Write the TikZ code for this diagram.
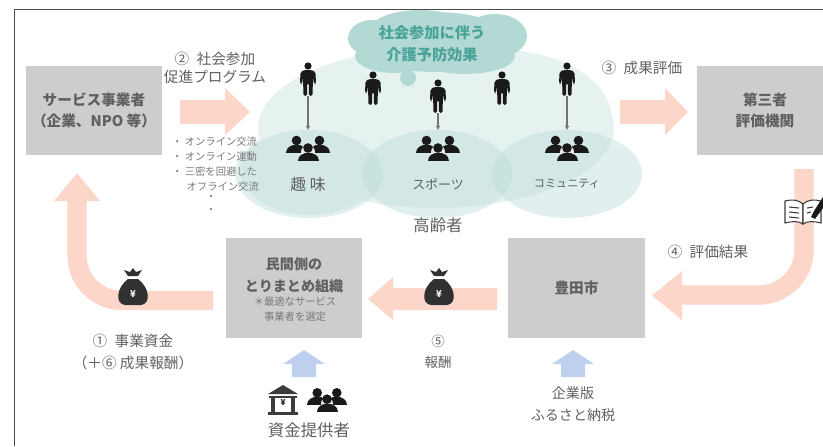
\documentclass[tikz,border=0pt]{standalone}
\usepackage{fontspec}
\setmainfont{Noto Sans CJK JP}
\usetikzlibrary{arrows.meta}
\definecolor{boxgray}{HTML}{CDCDCD}
\definecolor{txtgray}{HTML}{606060}
\definecolor{flowpink}{HTML}{FBD6C9}
\definecolor{flowblue}{HTML}{BFCFEE}
\definecolor{cloudpale}{HTML}{E6F2F0}
\definecolor{cloudmid}{HTML}{BCDCDA}
\definecolor{cloudtop}{HTML}{B2D9D4}
\definecolor{cloudtxt}{HTML}{4AA398}
\definecolor{iconblack}{HTML}{1A1A1A}
\tikzset{
  pics/person/.style={code={
    \fill[iconblack] (0,-13) circle[radius=3.6];
    \fill[iconblack,rounded corners=1.5] (-8,5) -- (-7.5,-7) -- (-4,-9) -- (4,-9) -- (7.5,-7) -- (8,5) -- (6,5) -- (5,-2)
      -- (4.5,17) -- (.8,17) -- (.8,4) -- (-.8,4) -- (-.8,17) -- (-4.5,17) -- (-5,-2) -- (-6,5) -- cycle;
  }},
  pics/onehead/.style={code={
    \fill[iconblack] (0,-5.5) circle[radius=4.8];
    \fill[iconblack] (-10.5,7) .. controls (-10.5,-4) and (10.5,-4) .. (10.5,7) -- cycle;
  }},
  pics/crowd/.style={code={
    \pic at (-11.5,-2) {onehead};
    \pic at (11.5,-2) {onehead};
    \fill[white,fill opacity=.9] (0,4) circle[radius=7];
    \pic at (0,5.5) {onehead};
  }},
  pics/moneybag/.style={code={
    \fill[iconblack!90] (-5,-15) -- (-9,-21) -- (-3,-19) -- (0,-23) -- (3,-19) -- (9,-21) -- (5,-15) -- cycle;
    \fill[iconblack!90] (-5,-12) .. controls (-17,-3) and (-18,13) .. (-8,14)
      -- (8,14) .. controls (18,13) and (17,-3) .. (5,-12) -- cycle;
    \node[text=white,font=\fontsize{8}{8}\selectfont\bfseries] (#1) at (0,3) {¥};
  }},
}
\begin{document}
\begin{tikzpicture}[x=0.03cm,y=-0.03cm,
    box/.style={fill=boxgray,minimum width=4.08cm,minimum height=2.67cm,inner sep=0pt,align=center,
                text=txtgray,font=\fontsize{12.5}{17.5}\selectfont\bfseries},
    lbl/.style={text=txtgray,align=center,inner sep=0pt,font=\fontsize{12.5}{16}\selectfont},
    small/.style={text=txtgray!85,align=left,inner sep=0pt,font=\fontsize{8.8}{12.6}\selectfont},
    flow/.style={fill=flowpink},
    flowline/.style={draw=flowpink,line width=16.5pt},
    lift/.style={fill=flowblue},
    link/.style={draw=black!55,line width=.9pt,-{Latex[length=3.5pt,width=4pt]}}
    ]
    \useasboundingbox (0,0) rectangle (823,446);
    \draw[black!70,line width=1.1pt] (823,9.5) -- (14.5,9.5) -- (14.5,446);

    % clouds
    \fill[cloudpale] (436,128) ellipse[x radius=178,y radius=80];
    \fill[cloudpale] (310,170) ellipse[x radius=70,y radius=45];
    \fill[cloudpale] (500,120) ellipse[x radius=112,y radius=70];
    \foreach \cx/\rx in {309/74, 437/75, 567/75}
        \fill[cloudmid,fill opacity=.45] (\cx,174) ellipse[x radius=\rx,y radius=44];
    \foreach \cx/\cy/\rx/\ry in {435/42/78/30, 372/38/24/18, 495/36/32/22, 420/30/50/20, 465/56/50/18, 395/56/40/17, 408/78/8/8}
        \fill[cloudtop] (\cx,\cy) ellipse[x radius=\rx,y radius=\ry];
    \node[text=cloudtxt,align=center,inner sep=0pt,font=\fontsize{13}{18.5}\selectfont\bfseries] (effect) at (432,44) {社会参加に伴う\\介護予防効果};

    % boxes
    \node[box] (service) at (94,110.5) {サービス事業者\\（企業、NPO 等）};
    \node[box] (third) at (765,110.5) {第三者\\評価機関};
    \node[box,minimum height=3cm] (matome) at (294,288) {};
    \node[text=txtgray,align=center,inner sep=0pt,font=\fontsize{12}{18.5}\selectfont\bfseries] (matomeT) at (294,275) {民間側の\\とりまとめ組織};
    \node[text=txtgray!85,align=center,inner sep=0pt,font=\fontsize{8.8}{12.5}\selectfont] (matomeS) at (295,309) {＊最適なサービス\\事業者を選定};
    \node[box,minimum height=3cm,minimum width=4.11cm] (toyota) at (576.5,288) {豊田市};

    % flow arrows
    \fill[flow] (180,100) -- (225,100) -- (225,88) -- (250,112) -- (225,135) -- (225,124) -- (180,124) -- cycle;
    \fill[flow] (620,100) -- (665,100) -- (665,88) -- (688,112) -- (665,135) -- (665,124) -- (620,124) -- cycle;
    \fill[flow] (497,288) -- (393,288) -- (393,277) -- (368,299) -- (393,320) -- (393,310) -- (497,310) -- cycle;
    \draw[flowline] (213,300.5) -- (122,300.5) arc[start angle=90,end angle=180,radius=45] -- (77,195);
    \fill[flow] (77,173) -- (100,201) -- (54,201) -- cycle;
    \draw[flowline] (804,169) -- (804,250) arc[start angle=0,end angle=90,radius=45] -- (678,295);
    \fill[flow] (652,295.5) -- (682,271) -- (682,320) -- cycle;
    \foreach \cx in {304,573}
        \fill[lift] (\cx,350) -- (\cx+21,364) -- (\cx+12,364) -- (\cx+12,377) -- (\cx-12,377) -- (\cx-12,364) -- (\cx-21,364) -- cycle;

    % people
    \foreach \nm/\cx/\cy in {a/308/79, b/373/88, c/438/96, d/502/88, e/567/79} {
        \pic at (\cx,\cy) {person};
        \coordinate (p\nm) at (\cx,\cy+17);
    }
    \foreach \nm/\cx/\ttl/\sz in {a/308/趣 味/13.5, c/438/スポーツ/11, e/567/コミュニティ/9.5} {
        \pic at (\cx,148) {crowd};
        \coordinate (g\nm) at (\cx,130);
        \draw[link] (p\nm) -- (g\nm);
        \node[lbl,font=\fontsize{\sz}{\sz}\selectfont] (t\nm) at (\cx,184) {\ttl};
    }
    \node[lbl,font=\fontsize{14}{14}\selectfont] (elder) at (438,225) {高齢者};

    % labels
    \node[lbl] (step2) at (215,68) {②\hspace{.5em}社会参加\\促進プログラム};
    \node[lbl] (step3) at (642,68) {③\hspace{.5em}成果評価};
    \node[lbl] (step4) at (708,252) {④\hspace{.5em}評価結果};
    \node[lbl,font=\fontsize{11.5}{18}\selectfont] (step5) at (438,352) {⑤\\報酬};
    \node[lbl,font=\fontsize{12.5}{19}\selectfont] (step1) at (133,352) {①\hspace{.5em}事業資金\\（＋⑥ 成果報酬）};
    \node[lbl,font=\fontsize{14}{14}\selectfont] (giver) at (309,430) {資金提供者};
    \node[lbl,font=\fontsize{12}{19}\selectfont] (furusato) at (573,404) {企業版\\ふるさと納税};
    \node[small,anchor=north west] (menu) at (172,137) {・ オンライン交流\\・ オンライン運動\\・ 三密を回避した\\\hspace{1.4em}オフライン交流};
    \node[small] (more1) at (211,198) {・};
    \node[small] (more2) at (211,211) {・};

    % icons
    \pic at (133,291) {moneybag=yenA};
    \pic at (439,291) {moneybag=yenB};
    \pic[scale=.85] at (327,400) {crowd};

    % bank
    \fill[iconblack!85] (268,394) -- (283,385) -- (298,394) -- cycle;
    \fill[iconblack!85] (269,396) rectangle (297,398);
    \fill[iconblack!85] (271,398) rectangle (275,412);
    \fill[iconblack!85] (291,398) rectangle (295,412);
    \fill[iconblack!85] (268,412) rectangle (298,415);
    \node[text=iconblack,inner sep=0pt,font=\fontsize{7}{7}\selectfont\bfseries] (yenC) at (283,403) {¥};

    % book and pen
    \begin{scope}[draw=iconblack!85,line width=.9pt]
        \draw[fill=white] (785,201) .. controls (792,199) and (799,200) .. (803,204) -- (803,224) .. controls (799,221) and (792,221) .. (785,223) -- cycle;
        \draw[fill=white] (803,204) .. controls (807,200) and (814,199) .. (821,201) -- (821,223) .. controls (814,221) and (807,221) .. (803,224) -- cycle;
        \draw (789,207) -- (799,208) (789,212) -- (799,213) (789,217) -- (799,218) (807,208) -- (813,207) (807,213) -- (811,212);
    \end{scope}
    \fill[iconblack] (811,217) -- (814,211) -- (823,197) -- (823,208) -- (815,219) -- cycle;
\end{tikzpicture}
\end{document}
